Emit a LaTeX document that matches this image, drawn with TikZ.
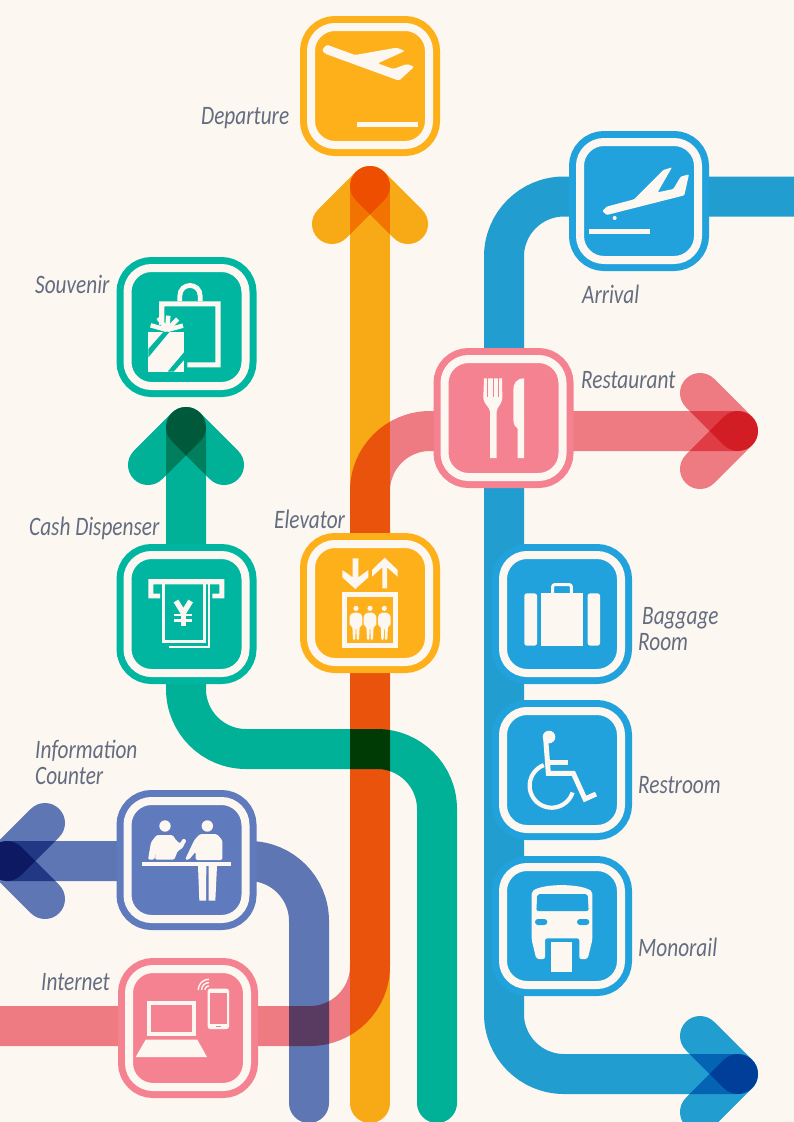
\documentclass[tikz,border=0pt]{standalone}
\usepackage{fontspec}
\newfontfamily\labfont[FakeStretch=0.8]{Carlito}
\definecolor{bgc}{RGB}{252,248,241}
\definecolor{cyel}{RGB}{253,176,26}
\definecolor{cblu}{RGB}{34,162,220}
\definecolor{cgrn}{RGB}{0,182,160}
\definecolor{cpnk}{RGB}{245,130,145}
\definecolor{cind}{RGB}{96,122,190}
\definecolor{fyel}{RGB}{250,174,24}
\definecolor{fpnk}{RGB}{241,126,138}
\definecolor{ctxt}{RGB}{100,108,128}
\tikzset{
  flow/.style={draw=#1,line width=40pt,line cap=round,blend mode=multiply},
  route/.style={flow=#1,rounded corners=60pt},
  sign/.style={rectangle,draw=#1,fill=#1,line width=7pt,double=bgc,double distance=8pt,
    minimum size=118pt,inner sep=0pt,rounded corners=24pt},
  lab/.style={font=\labfont\itshape\fontsize{26.6}{26}\selectfont,text=ctxt,inner sep=0pt,anchor=west,align=left},
  zoomed/.style={x=0.33333pt,y=-0.33333pt},
  ink/.style={fill=bgc,draw=none},
  inkline/.style={draw=bgc,line cap=butt,line join=miter},
}
\begin{document}
\begin{tikzpicture}[x=1pt,y=-1pt]
\useasboundingbox (0,0) rectangle (794,1122);
\clip (0,0) rectangle (794,1122);
\fill[bgc] (0,0) rectangle (794,1122);
% coordinates
\coordinate (ybot) at (370,1103); \coordinate (ytip) at (370,186);
\coordinate (ytl) at (332,224); \coordinate (ytr) at (408,224);
\coordinate (pstart) at (-40,1026); \coordinate (pc1) at (370,1026); \coordinate (pc2) at (370,431);
\coordinate (ptip) at (738,431); \coordinate (ptl) at (700,393); \coordinate (ptr) at (700,469);
\coordinate (bstart) at (840,196.5); \coordinate (bc1) at (504,196.5); \coordinate (bc2) at (504,1074);
\coordinate (btip) at (738,1074); \coordinate (btl) at (700,1036); \coordinate (btr) at (700,1112);
\coordinate (gtip) at (186,427); \coordinate (gl) at (148,465); \coordinate (gr) at (224,465);
\coordinate (gc1) at (186,749); \coordinate (gc2) at (437,749); \coordinate (gbot) at (437,1103);
\coordinate (itip) at (7,861); \coordinate (iu) at (45,823); \coordinate (id) at (45,899);
\coordinate (ic1) at (309,861); \coordinate (ibot) at (309,1103);
% routes
\draw[route=fyel] (ybot) -- (ytip);
\draw[flow=fyel] (ytip) -- (ytl);
\draw[flow=fyel] (ytip) -- (ytr);
\draw[route=cblu] (bstart) -- (bc1) -- (bc2) -- (btip);
\draw[flow=cblu] (btip) -- (btl);
\draw[flow=cblu] (btip) -- (btr);
\draw[route=fpnk] (pstart) -- (pc1) -- (pc2) -- (ptip);
\draw[flow=fpnk] (ptip) -- (ptl);
\draw[flow=fpnk] (ptip) -- (ptr);
\draw[route=cgrn] (gtip) -- (gc1) -- (gc2) -- (gbot);
\draw[flow=cgrn] (gtip) -- (gl);
\draw[flow=cgrn] (gtip) -- (gr);
\draw[route=cind] (itip) -- (ic1) -- (ibot);
\draw[flow=cind] (itip) -- (iu);
\draw[flow=cind] (itip) -- (id);
% signs
\node[sign=cyel] (departure) at (370,86) {};
\node[sign=cblu] (arrival) at (639,201) {};
\node[sign=cgrn] (souvenir) at (186.5,327) {};
\node[sign=cpnk] (restaurant) at (503.5,418) {};
\node[sign=cgrn] (cash) at (186.5,614) {};
\node[sign=cyel] (elevator) at (370,603) {};
\node[sign=cblu] (baggage) at (562,614) {};
\node[sign=cblu] (restroom) at (562,770) {};
\node[sign=cblu] (monorail) at (562,926) {};
\node[sign=cind] (info) at (186.5,860) {};
\node[sign=cpnk] (internet) at (188,1028) {};
% labels
\node[lab] (ldep) at (201,118) {Departure};
\node[lab] (lsou) at (35,284) {Souvenir};
\node[lab] (larr) at (582,294) {Arrival};
\node[lab] (lres) at (581,380) {Restaurant};
\node[lab] (lcas) at (29,528) {Cash Dispenser};
\node[lab] (lele) at (274,519) {Elevator};
\node[lab] (lbag) at (638,629.5) {\hspace*{4pt}Baggage\\Room};
\node[lab] (lrst) at (638,785) {Restroom};
\node[lab] (lmon) at (638,947) {Monorail};
\node[lab] (linf) at (35,762.5) {Information\\Counter};
\node[lab] (lint) at (41,982) {Internet};
% departure icon
\begin{scope}[shift={(290,0)},zoomed]
\fill[ink,rounded corners=1.5pt] (110,134) -- (195,165) -- (320,143) -- (345,153) -- (263,190) -- (310,207) -- (350,192) -- (373,200) -- (327,242) -- (105,161) -- (96,150) -- cycle;
\fill[ink] (201,365) rectangle (384,381);
\end{scope}
% arrival icon
\begin{scope}[shift={(560,120)},zoomed]
\fill[ink,rounded corners=1pt] (140,260) -- (222,238) -- (310,150) -- (336,142) -- (293,217) -- (340,207) -- (362,170) -- (387,163) -- (373,226) -- (140,285) -- (127,273) -- cycle;
\fill[ink] (164,294) circle[radius=2pt];
\fill[ink] (87,326) rectangle (270,342);
\end{scope}
% souvenir icon
\begin{scope}[shift={(105,250)},zoomed]
\draw[inkline,line width=4.8pt] (224.5,154) -- (224.5,138) .. controls (224.5,96) and (285.5,96) .. (285.5,138) -- (285.5,154);
\fill[ink] (162,154) -- (347,154) -- (347,352) -- (247,352) -- (247,337) -- (331,337) -- (331,169) -- (178,169) -- (178,214) -- (162,226) -- cycle;
\fill[ink] (130,245) rectangle (237,365);
\fill[cgrn] (130,297) -- (176,245) -- (194,245) -- (130,322) -- cycle;
\fill[cgrn] (188,365) -- (237,307) -- (237,330) -- (206,365) -- cycle;
\draw[inkline,line width=4.5pt] (186,240) -- (137,226);
\draw[inkline,line width=4.5pt] (186,240) -- (160,203);
\draw[inkline,line width=4.5pt] (186,240) -- (190,197);
\draw[inkline,line width=4.5pt] (186,240) -- (218,207);
\draw[inkline,line width=4.5pt] (186,240) -- (234,227);
\end{scope}
% restaurant icon
\begin{scope}[shift={(425,340)},zoomed]
\fill[ink] (177,115) -- (175,170) .. controls (175,195) and (195,200) .. (195,215) -- (195,354) -- (215,354) -- (215,215) .. controls (215,200) and (232,195) .. (232,170) -- (231,115) -- cycle;
\fill[cpnk] (187,115) rectangle (190,172);
\fill[cpnk] (203,115) rectangle (206,172);
\fill[cpnk] (218,115) rectangle (221,172);
\fill[ink] (297,115) .. controls (275,115) and (265,130) .. (265,150) -- (265,240) .. controls (266,255) and (272,262) .. (278,266) -- (278,354) -- (297,354) -- cycle;
\end{scope}
% cash icon
\begin{scope}[shift={(105,535)},zoomed]
\fill[ink] (130,132) -- (358,132) -- (358,190) -- (322,190) -- (322,176) -- (343,176) -- (343,148) -- (145,148) -- (145,176) -- (165,176) -- (165,190) -- (130,190) -- cycle;
\draw[inkline,line width=2.6pt] (176,148) -- (176,319) -- (299,319) -- (299,148);
\draw[inkline,line width=2.8pt] (192,336) -- (312,336) -- (312,148);
\draw[inkline,line width=5.4pt] (213,198) -- (235,234) -- (257,198);
\draw[inkline,line width=5pt] (235,230) -- (235,272);
\draw[inkline,line width=2.7pt] (208,240) -- (261,240);
\draw[inkline,line width=2.7pt] (208,257) -- (261,257);
\end{scope}
% elevator icon
\begin{scope}[shift={(290,525)},zoomed]
\fill[ink] (188,100) -- (205,100) -- (205,157) -- (235,135) -- (235,157) -- (196,192) -- (157,157) -- (157,135) -- (188,157) -- cycle;
\fill[ink] (277,190) -- (291,190) -- (291,127) -- (323,155) -- (323,135) -- (284,98) -- (246,135) -- (246,155) -- (277,127) -- cycle;
\draw[inkline,line width=5.3pt] (163,209) rectangle (317,362);
\foreach \p in {198,240,283}{
  \fill[ink] (\p,250) circle[radius=2.6pt];
  \fill[ink,rounded corners=1.5pt] (\p-10,263) -- (\p+10,263) -- (\p+19,272) -- (\p+19,303) -- (\p+11,303) -- (\p+9,346) -- (\p+2,346) -- (\p+1,308) -- (\p-1,308) -- (\p-2,346) -- (\p-9,346) -- (\p-11,303) -- (\p-19,303) -- (\p-19,272) -- cycle;
}
\end{scope}
% baggage and restroom icons
\begin{scope}[shift={(490,540)},zoomed]
\draw[inkline,line width=3pt,rounded corners=2pt] (188,160) -- (188,134) -- (244,134) -- (244,160);
\fill[ink] (154,160) rectangle (280,317);
\fill[ink,rounded corners=2.5pt] (141,160) -- (103,160) -- (103,317) -- (141,317) -- cycle;
\fill[ink,rounded corners=2.5pt] (293,160) -- (330,160) -- (330,317) -- (293,317) -- cycle;
\fill[ink] (177,591) circle[radius=6.3pt];
\draw[inkline,line width=5pt] (167,595) -- (175,700) -- (250,700) -- (285,777) -- (318,762);
\draw[inkline,line width=5pt] (175,667) -- (233,667);
\draw[inkline,line width=4.2pt] plot[domain=249:18,samples=50] ({185+66*cos(\x)},{737+66*sin(\x)});
\end{scope}
% monorail icon
\begin{scope}[shift={(490,850)},zoomed]
\fill[ink,rounded corners=2pt] (125,125) .. controls (160,100) and (270,100) .. (307,125) -- (307,270) -- (293,327) -- (268,327) -- (268,265) -- (165,265) -- (165,327) -- (139,327) -- (125,270) -- cycle;
\fill[cblu,rounded corners=2pt] (142,132) -- (293,132) -- (296,183) -- (139,183) -- cycle;
\fill[cblu,rounded corners=3pt] (135,207) rectangle (172,225);
\fill[cblu,rounded corners=3pt] (261,207) rectangle (298,225);
\fill[ink] (183,276) rectangle (247,365);
\end{scope}
% information icon
\begin{scope}[shift={(105,785)},zoomed]
\fill[ink] (110,231) rectangle (377,243);
\fill[ink] (180,123) circle[radius=5.7pt];
\fill[ink,rounded corners=1.5pt] (129,224) -- (138,172) -- (155,150) -- (203,150) -- (215,168) -- (226,176) -- (233,160) -- (245,165) -- (232,190) -- (218,198) -- (208,224) -- (150,224) -- (155,190) -- (148,224) -- cycle;
\fill[ink] (307,123) circle[radius=5.7pt];
\fill[ink,rounded corners=1.5pt] (240,224) -- (268,165) -- (285,147) -- (335,147) -- (352,165) -- (352,225) -- (272,225) -- (272,200) -- (252,224) -- cycle;
\fill[ink] (279,243) -- (283,347) -- (303,347) -- (304,243) -- cycle;
\fill[ink] (311,243) -- (311,347) -- (331,347) -- (336,243) -- cycle;
\end{scope}
% internet icon
\begin{scope}[shift={(105,950)},zoomed]
\draw[inkline,line width=4.3pt] (131.5,160) rectangle (266.5,253);
\fill[ink] (122,269) -- (277,269) -- (306,321) -- (92,321) -- cycle;
\fill[ink,rounded corners=2.5pt] (308,116) rectangle (372,237);
\fill[cpnk] (314,128) rectangle (366,223);
\fill[cpnk] (332,227) rectangle (349,232);
\foreach \r in {12,22,32}{
  \draw[inkline,line width=1.4pt] plot[domain=180:270,samples=15] ({312+\r*cos(\x)},{120+\r*sin(\x)});
}
\end{scope}
\end{tikzpicture}
\end{document}
